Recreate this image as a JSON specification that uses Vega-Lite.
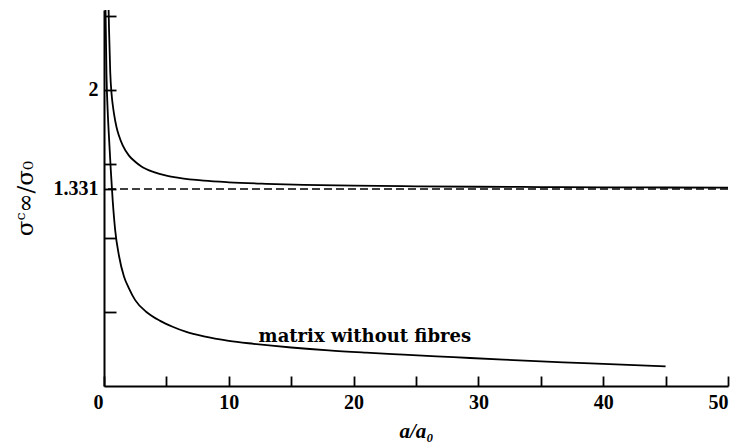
{
  "$schema": "https://vega.github.io/schema/vega-lite/v6.json",
  "width": 624,
  "height": 376,
  "autosize": {"type": "none"},
  "padding": {"left": 104, "top": 10, "right": 11, "bottom": 57},
  "background": "white",
  "config": {
    "view": {"stroke": null},
    "axis": {
      "grid": false,
      "domainColor": "black",
      "domainWidth": 2,
      "tickColor": "black",
      "tickWidth": 1.8,
      "labelColor": "black",
      "titleColor": "black",
      "labelFont": "Liberation Serif",
      "labelFontWeight": "bold",
      "labelFontSize": 20,
      "titleFont": "Liberation Serif",
      "labelOverlap": false
    }
  },
  "datasets": {
    "curves": [
      {"series": "with fibres", "x": 0.36, "y": 2.58},
      {"series": "with fibres", "x": 0.4, "y": 2.42},
      {"series": "with fibres", "x": 0.5, "y": 2.12},
      {"series": "with fibres", "x": 0.6, "y": 1.98},
      {"series": "with fibres", "x": 0.7, "y": 1.9},
      {"series": "with fibres", "x": 0.8, "y": 1.84},
      {"series": "with fibres", "x": 1.0, "y": 1.75},
      {"series": "with fibres", "x": 1.2, "y": 1.69},
      {"series": "with fibres", "x": 1.5, "y": 1.625},
      {"series": "with fibres", "x": 2.0, "y": 1.556},
      {"series": "with fibres", "x": 2.5, "y": 1.515},
      {"series": "with fibres", "x": 3.0, "y": 1.483},
      {"series": "with fibres", "x": 4.0, "y": 1.445},
      {"series": "with fibres", "x": 5.0, "y": 1.421},
      {"series": "with fibres", "x": 6.0, "y": 1.406},
      {"series": "with fibres", "x": 8.0, "y": 1.387},
      {"series": "with fibres", "x": 10.0, "y": 1.376},
      {"series": "with fibres", "x": 13.0, "y": 1.366},
      {"series": "with fibres", "x": 16.0, "y": 1.359},
      {"series": "with fibres", "x": 20.0, "y": 1.353},
      {"series": "with fibres", "x": 25.0, "y": 1.349},
      {"series": "with fibres", "x": 30.0, "y": 1.346},
      {"series": "with fibres", "x": 35.0, "y": 1.344},
      {"series": "with fibres", "x": 40.0, "y": 1.342},
      {"series": "with fibres", "x": 45.0, "y": 1.341},
      {"series": "with fibres", "x": 50.0, "y": 1.34},
      {"series": "matrix without fibres", "x": 0.12, "y": 2.55},
      {"series": "matrix without fibres", "x": 0.2, "y": 2.1},
      {"series": "matrix without fibres", "x": 0.3, "y": 1.85},
      {"series": "matrix without fibres", "x": 0.4, "y": 1.68},
      {"series": "matrix without fibres", "x": 0.55, "y": 1.45},
      {"series": "matrix without fibres", "x": 0.7, "y": 1.25},
      {"series": "matrix without fibres", "x": 0.9, "y": 1.05},
      {"series": "matrix without fibres", "x": 1.2, "y": 0.88},
      {"series": "matrix without fibres", "x": 1.6, "y": 0.74},
      {"series": "matrix without fibres", "x": 2.0, "y": 0.66},
      {"series": "matrix without fibres", "x": 2.5, "y": 0.58},
      {"series": "matrix without fibres", "x": 3.4, "y": 0.5},
      {"series": "matrix without fibres", "x": 4.5, "y": 0.44},
      {"series": "matrix without fibres", "x": 5.5, "y": 0.4},
      {"series": "matrix without fibres", "x": 6.6, "y": 0.365},
      {"series": "matrix without fibres", "x": 8.0, "y": 0.335},
      {"series": "matrix without fibres", "x": 10.0, "y": 0.305},
      {"series": "matrix without fibres", "x": 12.0, "y": 0.285},
      {"series": "matrix without fibres", "x": 15.0, "y": 0.26},
      {"series": "matrix without fibres", "x": 18.0, "y": 0.24},
      {"series": "matrix without fibres", "x": 21.0, "y": 0.225},
      {"series": "matrix without fibres", "x": 24.0, "y": 0.212},
      {"series": "matrix without fibres", "x": 28.0, "y": 0.195},
      {"series": "matrix without fibres", "x": 32.0, "y": 0.178},
      {"series": "matrix without fibres", "x": 36.8, "y": 0.16},
      {"series": "matrix without fibres", "x": 40.0, "y": 0.15},
      {"series": "matrix without fibres", "x": 45.0, "y": 0.132}
    ],
    "reference": [{"y": 1.331}]
  },
  "layer": [
    {
      "data": {"name": "curves"},
      "mark": {"type": "line", "interpolate": "monotone", "clip": true, "color": "black", "strokeWidth": 1.8},
      "encoding": {
        "x": {
          "field": "x",
          "type": "quantitative",
          "scale": {"domain": [0, 50], "nice": false},
          "axis": {
            "values": [0, 5, 10, 15, 20, 25, 30, 35, 40, 45, 50],
            "tickSize": -10,
            "labelPadding": 16,
            "labelExpr": "datum.value % 10 == 0 ? datum.label : ''",
            "labelOffset": {"condition": {"test": "datum.value == 0", "value": -11}, "value": 0},
            "title": "a/a₀",
            "titleFontStyle": "italic",
            "titleFontWeight": "bold",
            "titleFontSize": 21,
            "titlePadding": 8
          }
        },
        "y": {
          "field": "y",
          "type": "quantitative",
          "scale": {"domain": [0, 2.54], "nice": false, "zero": false},
          "axis": {
            "values": [0.5, 1, 1.331, 1.5, 2, 2.5],
            "tickSize": -12,
            "labelPadding": 18,
            "labelExpr": "datum.value == 2 ? '2' : (datum.value == 1.331 ? '1.331' : '')",
            "title": "σᶜ∞/σ₀",
            "titleFont": "DejaVu Serif",
            "titleFontWeight": "normal",
            "titleFontSize": 23,
            "titlePadding": 16
          }
        },
        "detail": {"field": "series", "type": "nominal"}
      }
    },
    {
      "data": {"name": "reference"},
      "mark": {"type": "rule", "strokeDash": [8, 4], "color": "black", "strokeWidth": 1.5},
      "encoding": {"y": {"field": "y", "type": "quantitative"}}
    },
    {
      "data": {"values": [{"x": 20.9, "y": 0.3, "label": "matrix without fibres"}]},
      "mark": {"type": "text", "align": "center", "baseline": "alphabetic", "font": "DejaVu Serif", "fontWeight": "bold", "fontSize": 18, "color": "black"},
      "encoding": {
        "x": {"field": "x", "type": "quantitative"},
        "y": {"field": "y", "type": "quantitative"},
        "text": {"field": "label"}
      }
    }
  ]
}
